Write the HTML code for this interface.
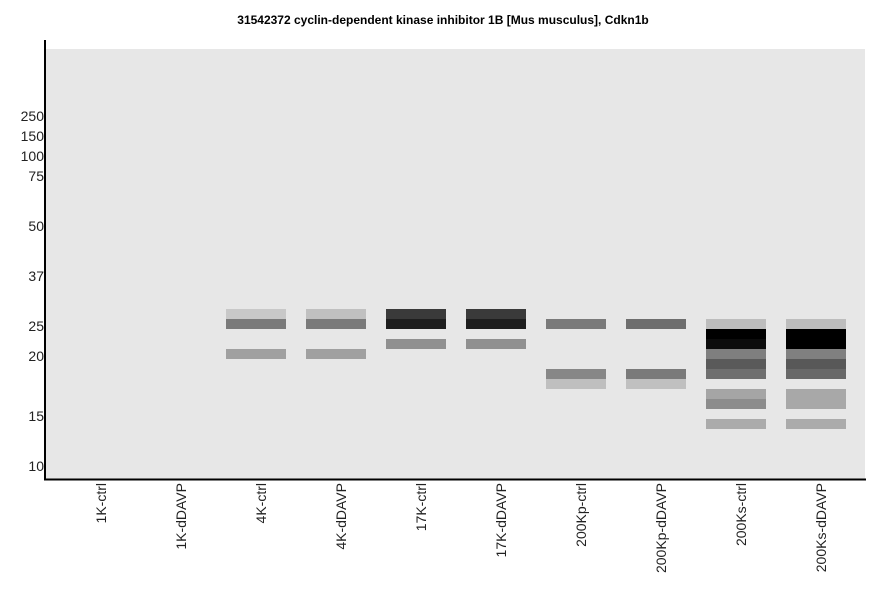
<!DOCTYPE html><html><head><style>body{margin:0;background:#fff}</style></head><body>
<svg width="886" height="595" xmlns="http://www.w3.org/2000/svg" font-family="Liberation Sans, sans-serif">
<rect x="0" y="0" width="886" height="595" fill="#fff"/>
<text x="443" y="24" text-anchor="middle" font-size="12" font-weight="bold">31542372 cyclin-dependent kinase inhibitor 1B [Mus musculus], Cdkn1b</text>
<rect x="46" y="49" width="819" height="430" fill="#e7e7e7"/>
<line x1="45" y1="40" x2="45" y2="480" stroke="#000" stroke-width="2"/>
<line x1="44" y1="479.5" x2="866" y2="479.5" stroke="#000" stroke-width="2"/>
<g font-size="14" text-anchor="end" fill="#222">
<text x="44" y="121">250</text><text x="44" y="141">150</text><text x="44" y="161">100</text><text x="44" y="181">75</text>
<text x="44" y="231">50</text><text x="44" y="281">37</text><text x="44" y="331">25</text><text x="44" y="361">20</text>
<text x="44" y="421">15</text><text x="44" y="471">10</text></g>
<g>
<rect x="226" y="309" width="60" height="10" fill="#c8c8c8"/><rect x="226" y="319" width="60" height="10" fill="#7a7a7a"/><rect x="226" y="349" width="60" height="10" fill="#a0a0a0"/>
<rect x="306" y="309" width="60" height="10" fill="#c0c0c0"/><rect x="306" y="319" width="60" height="10" fill="#7a7a7a"/><rect x="306" y="349" width="60" height="10" fill="#a0a0a0"/>
<rect x="386" y="309" width="60" height="10" fill="#3a3a3a"/><rect x="386" y="319" width="60" height="10" fill="#1e1e1e"/><rect x="386" y="339" width="60" height="10" fill="#909090"/>
<rect x="466" y="309" width="60" height="10" fill="#3a3a3a"/><rect x="466" y="319" width="60" height="10" fill="#1e1e1e"/><rect x="466" y="339" width="60" height="10" fill="#909090"/>
<rect x="546" y="319" width="60" height="10" fill="#7a7a7a"/><rect x="546" y="369" width="60" height="10" fill="#878787"/><rect x="546" y="379" width="60" height="10" fill="#bfbfbf"/>
<rect x="626" y="319" width="60" height="10" fill="#6e6e6e"/><rect x="626" y="369" width="60" height="10" fill="#7a7a7a"/><rect x="626" y="379" width="60" height="10" fill="#c0c0c0"/>
<rect x="706" y="319" width="60" height="10" fill="#bdbdbd"/><rect x="706" y="329" width="60" height="10" fill="#000"/><rect x="706" y="339" width="60" height="10" fill="#0c0c0c"/><rect x="706" y="349" width="60" height="10" fill="#7f7f7f"/><rect x="706" y="359" width="60" height="10" fill="#5a5a5a"/><rect x="706" y="369" width="60" height="10" fill="#6f6f6f"/><rect x="706" y="389" width="60" height="10" fill="#a5a5a5"/><rect x="706" y="399" width="60" height="10" fill="#8c8c8c"/><rect x="706" y="419" width="60" height="10" fill="#ababab"/>
<rect x="786" y="319" width="60" height="10" fill="#bdbdbd"/><rect x="786" y="329" width="60" height="20" fill="#000"/><rect x="786" y="349" width="60" height="10" fill="#808080"/><rect x="786" y="359" width="60" height="10" fill="#585858"/><rect x="786" y="369" width="60" height="10" fill="#686868"/><rect x="786" y="389" width="60" height="20" fill="#a8a8a8"/><rect x="786" y="419" width="60" height="10" fill="#ababab"/>
</g>
<g font-size="14" text-anchor="end" fill="#222">
<text transform="translate(106,483) rotate(-90)">1K-ctrl</text>
<text transform="translate(186,483) rotate(-90)">1K-dDAVP</text>
<text transform="translate(266,483) rotate(-90)">4K-ctrl</text>
<text transform="translate(346,483) rotate(-90)">4K-dDAVP</text>
<text transform="translate(426,483) rotate(-90)">17K-ctrl</text>
<text transform="translate(506,483) rotate(-90)">17K-dDAVP</text>
<text transform="translate(586,483) rotate(-90)">200Kp-ctrl</text>
<text transform="translate(666,483) rotate(-90)">200Kp-dDAVP</text>
<text transform="translate(746,483) rotate(-90)">200Ks-ctrl</text>
<text transform="translate(826,483) rotate(-90)">200Ks-dDAVP</text>
</g>
</svg></body></html>
